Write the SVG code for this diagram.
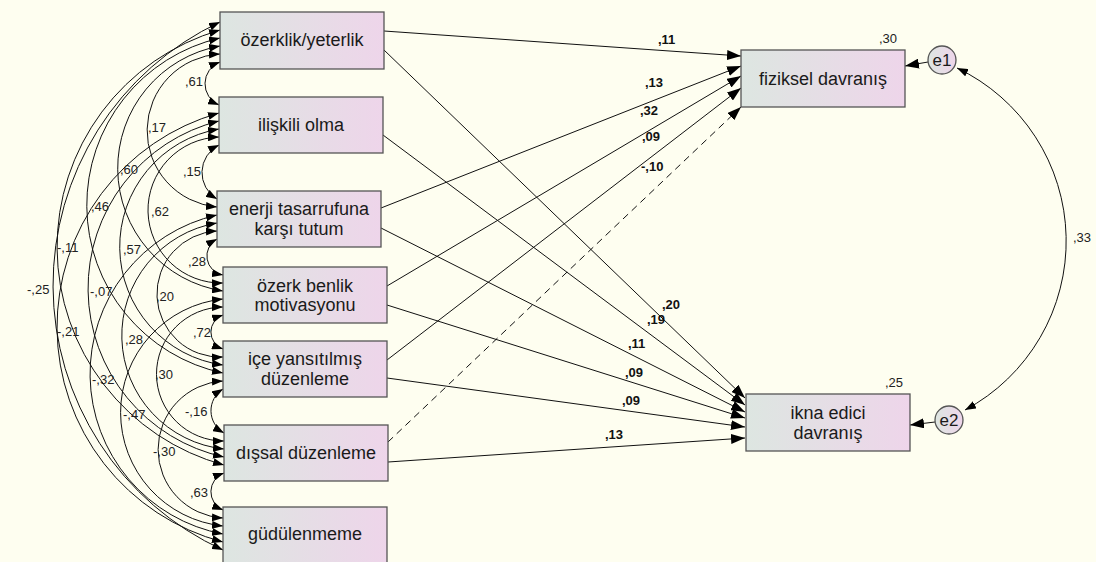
<svg xmlns="http://www.w3.org/2000/svg" width="1096" height="562" viewBox="0 0 1096 562">
<defs>
<linearGradient id="g" x1="0" y1="0" x2="1" y2="0">
<stop offset="0" stop-color="#dde6e1"/>
<stop offset="1" stop-color="#eed5ea"/>
</linearGradient>
<marker id="ah" markerUnits="userSpaceOnUse" markerWidth="14" markerHeight="10" viewBox="0 0 14 10" refX="14" refY="5" orient="auto-start-reverse">
<path d="M0,0 L14,5 L0,10 z" fill="#000"/>
</marker>
<marker id="ch" markerUnits="userSpaceOnUse" markerWidth="11" markerHeight="8" viewBox="0 0 11 8" refX="11" refY="4" orient="auto-start-reverse">
<path d="M0,0 L11,4 L0,8 z" fill="#000"/>
</marker>
<style>
.bg{fill:#fefef0}
.box{fill:url(#g);stroke:#555;stroke-width:1.3}
.t{font-family:"Liberation Sans",Arial,sans-serif;font-size:18px;fill:#1a1a1a;text-anchor:middle}
.e{font-family:"Liberation Sans",Arial,sans-serif;font-size:17px;fill:#1a1a1a;text-anchor:middle}
.c{font-family:"Liberation Sans",Arial,sans-serif;font-size:13px;fill:#222}
.b{font-family:"Liberation Sans",Arial,sans-serif;font-size:13px;font-weight:bold;fill:#111}
.p{fill:none;stroke:#111;stroke-width:1;marker-end:url(#ah)}
.cv{fill:none;stroke:#111;stroke-width:1;marker-start:url(#ch);marker-end:url(#ch)}
</style>
</defs>
<rect class="bg" x="0" y="0" width="1096" height="562"/>

<g id="connectors">
<!-- covariances span 1 -->
<path class="cv" d="M220,62 A23.2,23.2 0 0 0 219,105"/>
<path class="cv" d="M219,145 A30.8,30.8 0 0 0 217,199"/>
<path class="cv" d="M217,239 A19.3,19.3 0 0 0 223,275"/>
<path class="cv" d="M223,315 A18,18 0 0 0 223,349"/>
<path class="cv" d="M223,389 A25.6,25.6 0 0 0 224,433"/>
<path class="cv" d="M224,473 A19.9,19.9 0 0 0 223,510"/>
<!-- span 2 -->
<path class="cv" d="M220,54 A76.7,76.7 0 0 0 217,207"/>
<path class="cv" d="M219,137 A73,73 0 0 0 223,283"/>
<path class="cv" d="M217,231 A63,63 0 0 0 223,357"/>
<path class="cv" d="M223,307 A67,67 0 0 0 224,441"/>
<path class="cv" d="M223,381 A68.6,68.6 0 0 0 223,518"/>
<!-- span 3 -->
<path class="cv" d="M220,46 A124.2,124.2 0 0 0 223,291"/>
<path class="cv" d="M219,129 A119.4,119.4 0 0 0 223,365"/>
<path class="cv" d="M217,223 A114.1,114.1 0 0 0 224,449"/>
<path class="cv" d="M223,299 A114.1,114.1 0 0 0 223,526"/>
<!-- span 4 -->
<path class="cv" d="M220,38 A171.5,171.5 0 0 0 223,373"/>
<path class="cv" d="M219,121 A172.5,172.5 0 0 0 224,457"/>
<path class="cv" d="M217,215 A162.9,162.9 0 0 0 223,534"/>
<!-- span 5 -->
<path class="cv" d="M220,30 A225.9,225.9 0 0 0 224,465"/>
<path class="cv" d="M219,113 A222.3,222.3 0 0 0 223,542"/>
<!-- span 6 -->
<path class="cv" d="M220,22 A291.1,291.1 0 0 0 223,550"/>
<!-- e1-e2 covariance -->
<path class="cv" d="M957,68 A191.7,191.7 0 0 1 965,410"/>

<!-- regression paths -->
<path class="p" d="M384,31 L741,56"/>
<path class="p" d="M384,50 L745,398"/>
<path class="p" d="M383,135 L745,405"/>
<path class="p" d="M381,208 L741,66"/>
<path class="p" d="M381,228 L745,412"/>
<path class="p" d="M387,286 L741,76"/>
<path class="p" d="M387,305 L745,418"/>
<path class="p" d="M387,360 L741,88"/>
<path class="p" d="M387,378 L745,427"/>
<path class="p" d="M388,442 L741,107" stroke-dasharray="7,5"/>
<path class="p" d="M388,462 L745,438"/>
<path class="p" d="M928,62 L905,66"/>
<path class="p" d="M935,422 L910,425"/>

<!-- labels -->
<text class="c" x="185" y="86">,61</text>
<text class="c" x="183" y="176">,15</text>
<text class="c" x="188" y="266">,28</text>
<text class="c" x="193" y="337">,72</text>
<text class="c" x="185" y="416">-,16</text>
<text class="c" x="190" y="497">,63</text>
<text class="c" x="148" y="132">,17</text>
<text class="c" x="151" y="216">,62</text>
<text class="c" x="156" y="301">,20</text>
<text class="c" x="155" y="379">,30</text>
<text class="c" x="153" y="456">-,30</text>
<text class="c" x="120" y="174">,60</text>
<text class="c" x="123" y="254">,57</text>
<text class="c" x="125" y="344">,28</text>
<text class="c" x="123" y="419">-,47</text>
<text class="c" x="91" y="211">,46</text>
<text class="c" x="90" y="296">-,07</text>
<text class="c" x="92" y="384">-,32</text>
<text class="c" x="57" y="252">-,11</text>
<text class="c" x="57" y="336">-,21</text>
<text class="c" x="27" y="294">-,25</text>
<text class="c" x="1073" y="242">,33</text>

<text class="b" x="658" y="44">,11</text>
<text class="b" x="645" y="87">,13</text>
<text class="b" x="640" y="115">,32</text>
<text class="b" x="642" y="141">,09</text>
<text class="b" x="641" y="171">-,10</text>
<text class="b" x="662" y="309">,20</text>
<text class="b" x="647" y="324">,19</text>
<text class="b" x="628" y="348">,11</text>
<text class="b" x="625" y="377">,09</text>
<text class="b" x="622" y="405">,09</text>
<text class="b" x="605" y="439">,13</text>
</g>

<g id="n1"><rect class="box" x="220" y="12" width="164" height="57"/><text class="t" x="302" y="46">özerklik/yeterlik</text></g>
<g id="n2"><rect class="box" x="219" y="97" width="164" height="56"/><text class="t" x="301" y="131">ilişkili olma</text></g>
<g id="n3"><rect class="box" x="217" y="191" width="164" height="56"/><text class="t" x="299" y="215">enerji tasarrufuna</text><text class="t" x="299" y="235">karşı tutum</text></g>
<g id="n4"><rect class="box" x="223" y="267" width="164" height="56"/><text class="t" x="305" y="292">özerk benlik</text><text class="t" x="305" y="311">motivasyonu</text></g>
<g id="n5"><rect class="box" x="223" y="341" width="164" height="56"/><text class="t" x="305" y="365">içe yansıtılmış</text><text class="t" x="305" y="385">düzenleme</text></g>
<g id="n6"><rect class="box" x="224" y="425" width="164" height="56"/><text class="t" x="306" y="459">dışsal düzenleme</text></g>
<g id="n7"><rect class="box" x="223" y="507" width="164" height="57"/><text class="t" x="305" y="540">güdülenmeme</text></g>
<g id="fiziksel"><rect class="box" x="741" y="50" width="164" height="57"/><text class="t" x="823" y="85">fiziksel davranış</text><text class="c" x="879" y="43">,30</text></g>
<g id="ikna"><rect class="box" x="746" y="394" width="164" height="57"/><text class="t" x="828" y="419">ikna edici</text><text class="t" x="828" y="439">davranış</text><text class="c" x="885" y="387">,25</text></g>
<g id="e1"><circle cx="942" cy="60" r="14" fill="url(#g)" stroke="#555" stroke-width="1.3"/><text class="e" x="942" y="66">e1</text></g>
<g id="e2"><circle cx="949" cy="420" r="14" fill="url(#g)" stroke="#555" stroke-width="1.3"/><text class="e" x="949" y="426">e2</text></g>
</svg>
